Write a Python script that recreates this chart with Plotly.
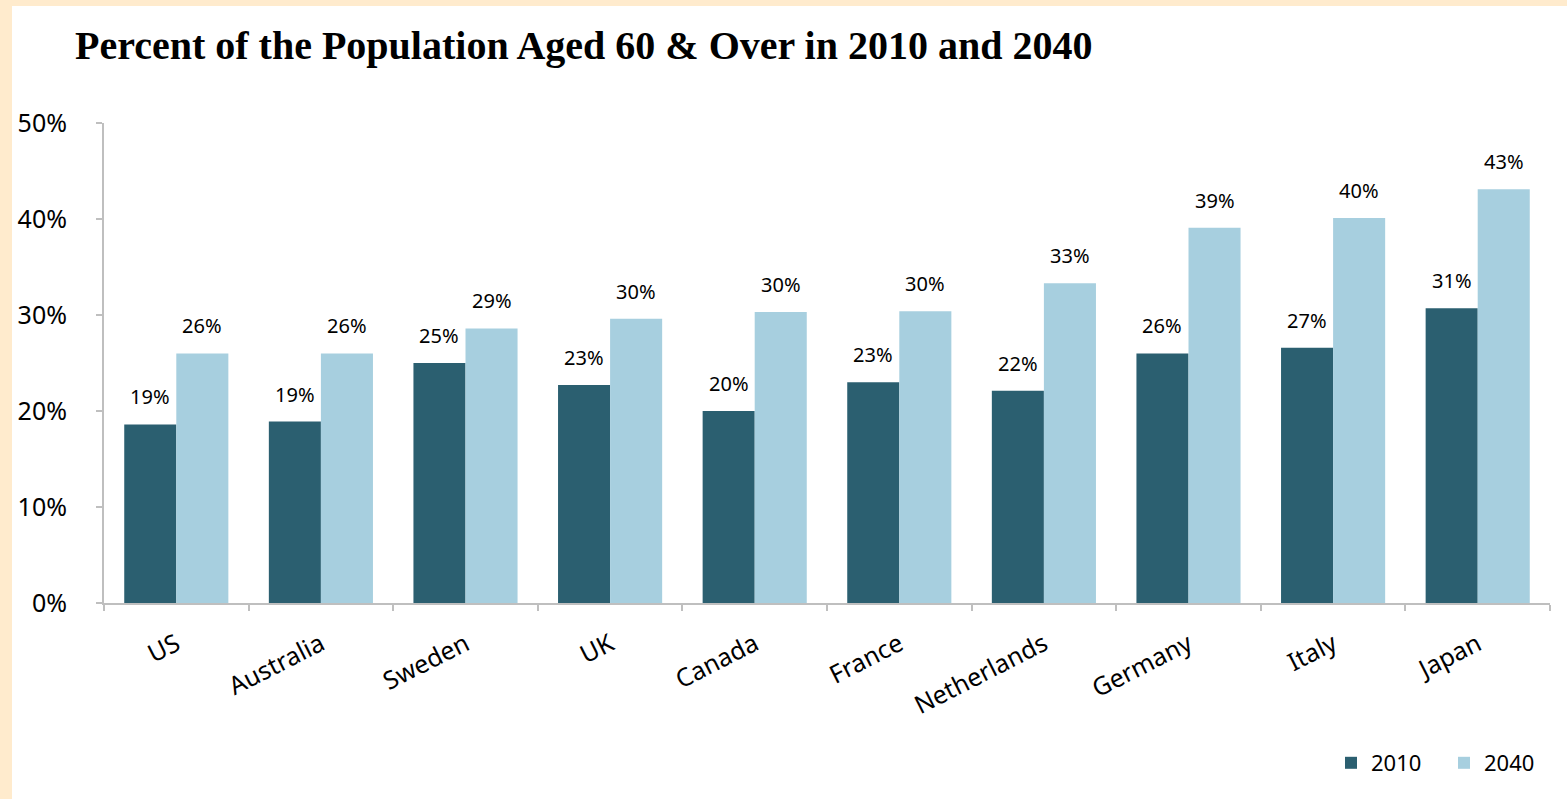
import plotly.graph_objects as go

countries = ["US", "Australia", "Sweden", "UK", "Canada", "France",
             "Netherlands", "Germany", "Italy", "Japan"]
pct_2010 = [18.6, 18.9, 25.0, 22.7, 20.0, 23.0, 22.1, 26.0, 26.6, 30.7]
pct_2040 = [26.0, 26.0, 28.6, 29.6, 30.3, 30.4, 33.3, 39.1, 40.1, 43.1]
y_ticks = [0, 10, 20, 30, 40, 50]
y_tick_text = ["0%", "10%", "20%", "30%", "40%", "50%"]

W, H = 1567, 799
L, R, T, B = 104, 17, 123, 196
pw, ph = W - L - R, H - T - B
bargap = 0.28
bar_px = pw / len(countries) * (1 - bargap) / 2

label_font = dict(family="Noto Sans", size=20, color="black")

fig = go.Figure()
series = [("2010", pct_2010, "#2B5F70", -1), ("2040", pct_2040, "#A7CFDF", 1)]
for name, vals, color, side in series:
    fig.add_trace(go.Bar(
        name=name, x=countries, y=vals,
        marker=dict(color=color, line=dict(width=0)),
        hoverinfo="x+y",
    ))
    # value labels sitting a little above each bar
    for c, v in zip(countries, vals):
        fig.add_annotation(
            x=c, y=v, text=f"{v:.0f}%", showarrow=False,
            xshift=side * bar_px / 2, yshift=12, yanchor="bottom",
            font=label_font,
        )

# white card over the peach page background
fig.add_shape(
    type="rect", xref="paper", yref="paper", layer="below",
    x0=(12 - L) / pw, x1=(W - L) / pw,
    y0=-(H - (T + ph)) / ph, y1=(T + ph - 6) / ph,
    fillcolor="white", line=dict(width=0),
)

fig.update_layout(
    width=W, height=H,
    margin=dict(l=L, r=R, t=T, b=B, autoexpand=False),
    paper_bgcolor="#FFEBCD",
    plot_bgcolor="rgba(0,0,0,0)",
    barmode="group", bargap=bargap, bargroupgap=0,
    font=dict(family="Noto Sans", color="black"),
    title=dict(
        text="<b>Percent of the Population Aged 60 &amp; Over in 2010 and 2040</b>",
        font=dict(family="Liberation Serif", size=40, color="black"),
        x=75 / W, xanchor="left", y=1 - 45 / H, yanchor="middle",
    ),
    legend=dict(
        orientation="h", x=(1331 - L) / pw, xanchor="left",
        y=-(763 - (T + ph)) / ph, yanchor="middle",
        font=dict(size=22), bgcolor="rgba(0,0,0,0)",
        traceorder="normal", itemwidth=30,
        entrywidth=68, entrywidthmode="pixels",
    ),
    xaxis=dict(
        showline=True, linecolor="#BFBFBF", linewidth=2,
        ticks="outside", tickson="boundaries", ticklen=6,
        tickcolor="#BFBFBF", tickwidth=2,
        tickangle=-27, tickfont=dict(size=25),
        ticklabelstandoff=15,
        showgrid=False,
    ),
    yaxis=dict(
        range=[0, 50], tickvals=y_ticks, ticktext=y_tick_text,
        showline=True, linecolor="#BFBFBF", linewidth=2,
        ticks="outside", ticklen=6, tickcolor="#BFBFBF", tickwidth=2,
        tickfont=dict(size=25), ticklabelstandoff=24,
        showgrid=False, zeroline=False,
    ),
)

fig.write_html("out.html")
